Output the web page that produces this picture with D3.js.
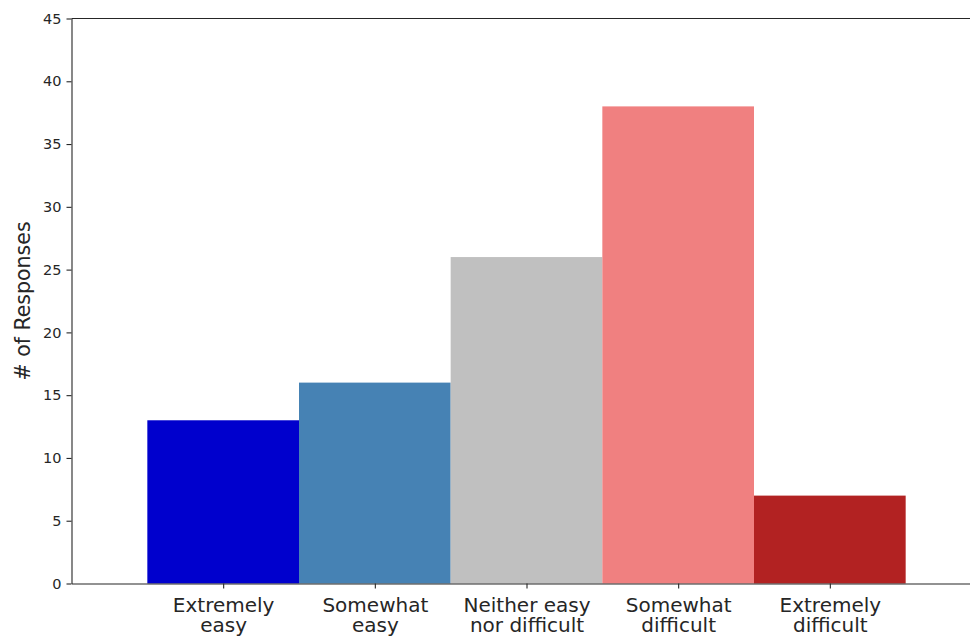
<!DOCTYPE html>
<html>
<head>
<meta charset="utf-8">
<script src="https://cdn.jsdelivr.net/npm/d3@7"></script>
<style>
  html, body { margin: 0; padding: 0; background: #fff; }
  svg { display: block; }
  text { font-family: "DejaVu Sans", sans-serif; fill: #262626; }
</style>
</head>
<body>
<svg id="chart" width="970" height="639"></svg>
<script>
const categories = [
  ["Extremely", "easy"],
  ["Somewhat", "easy"],
  ["Neither easy", "nor difficult"],
  ["Somewhat", "difficult"],
  ["Extremely", "difficult"]
];
const responses = [13, 16, 26, 38, 7];
const barColors = ["#0000CD", "#4682B4", "#C0C0C0", "#F08080", "#B22222"];
const yTicks = [0, 5, 10, 15, 20, 25, 30, 35, 40, 45];
const yLabel = "# of Responses";

const svg = d3.select("#chart");
const mLeft = 71.5, mRight = 981.5, mTop = 18.5, mBottom = 583.5;

const x = d3.scaleLinear().domain([-1, 5]).range([mLeft, mRight]);
const y = d3.scaleLinear().domain([0, 45]).range([mBottom, mTop]);

// bars
svg.append("g").selectAll("rect")
  .data(responses)
  .join("rect")
  .attr("x", (d, i) => x(i - 0.5))
  .attr("width", (d, i) => x(i + 0.5) - x(i - 0.5))
  .attr("y", d => y(d))
  .attr("height", d => y(0) - y(d))
  .attr("fill", (d, i) => barColors[i]);

// y axis
const yAxis = d3.axisLeft(y).tickValues(yTicks).tickSize(5).tickPadding(5).tickSizeOuter(0);
const gy = svg.append("g").attr("transform", `translate(${mLeft},0)`).call(yAxis);
gy.select(".domain").attr("stroke", "#262626").attr("stroke-width", 1.1);
gy.selectAll(".tick line").attr("stroke", "#262626").attr("stroke-width", 1.1);
gy.selectAll(".tick text").attr("font-size", 14.5).attr("font-family", "DejaVu Sans").attr("fill", "#262626");

// x axis
const xAxis = d3.axisBottom(x).tickValues(d3.range(categories.length)).tickSize(5).tickSizeOuter(0).tickFormat("");
const gx = svg.append("g").attr("transform", `translate(0,${mBottom})`).call(xAxis);
gx.select(".domain").attr("stroke", "#262626").attr("stroke-width", 1.1);
gx.selectAll(".tick line").attr("stroke", "#262626").attr("stroke-width", 1.1);
gx.selectAll(".tick").each(function(d) {
  const t = d3.select(this).append("text")
    .attr("text-anchor", "middle")
    .attr("font-size", 20)
    .attr("fill", "#262626");
  categories[d].forEach((line, j) => {
    t.append("tspan").attr("x", 0).attr("y", 28 + j * 20.5).text(line);
  });
});

// top spine
svg.append("line")
  .attr("x1", mLeft).attr("x2", mRight)
  .attr("y1", mTop).attr("y2", mTop)
  .attr("stroke", "#262626").attr("stroke-width", 1.1);

// y label
svg.append("text")
  .attr("transform", `translate(30,${(mTop + mBottom) / 2}) rotate(-90)`)
  .attr("text-anchor", "middle")
  .attr("font-size", 20.5)
  .attr("fill", "#262626")
  .text(yLabel);
</script>
</body>
</html>
